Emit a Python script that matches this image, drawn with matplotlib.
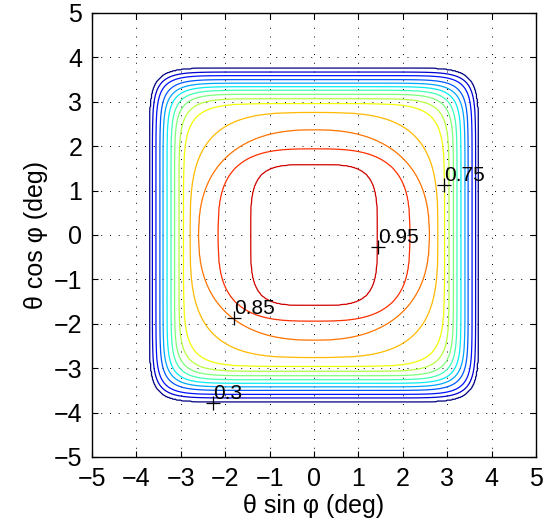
import numpy as np
import matplotlib
matplotlib.use("Agg")
import matplotlib.pyplot as plt

# contour levels
levels = [0.30, 0.35, 0.40, 0.45, 0.50, 0.55, 0.60, 0.65, 0.70, 0.75, 0.80, 0.85, 0.90, 0.95]
# half-width (x) and half-height (y) of each contour, in deg
half_w = [3.70, 3.64, 3.56, 3.47, 3.40, 3.31, 3.22, 3.14, 3.04, 2.94, 2.79, 2.60, 2.16, 1.43]
half_h = [3.755, 3.67, 3.59, 3.50, 3.42, 3.34, 3.26, 3.17, 3.07, 2.96, 2.76, 2.37, 1.94, 1.59]
# squareness exponent of each contour (superellipse)
squareness = [11, 11, 11, 10.5, 10, 10, 9.5, 9, 8, 6.5, 3.3, 2.4, 3.1, 4.0]

# labelled contours
label_vals = ["0.3", "0.75", "0.85", "0.95"]
label_x = [-2.28, 2.93, -1.80, 1.45]
label_y = [-3.78, 1.13, -1.86, -0.26]

ticks = [-5, -4, -3, -2, -1, 0, 1, 2, 3, 4, 5]

# build a field whose iso-lines are the read contours
xs = np.linspace(-5, 5, 501)
ys = np.linspace(-5, 5, 501)
X, Y = np.meshgrid(xs, ys)
L = np.array(levels)
G = np.array([(np.abs(X / a) ** p + np.abs(Y / b) ** p) ** (1.0 / p) - 1.0
              for a, b, p in zip(half_w, half_h, squareness)])
K = len(levels)
inside = (G <= 0).sum(axis=0)
Z = np.empty_like(X)
out = inside == 0
Z[out] = L[0] - 0.1 * G[0][out]
core = inside == K
Z[core] = L[-1] + 0.04 * (-G[-1][core])
mid = ~out & ~core
k = inside[mid] - 1
ii, jj = np.nonzero(mid)
gk = G[k, ii, jj]
gk1 = G[k + 1, ii, jj]
Z[mid] = L[k] + (L[k + 1] - L[k]) * (-gk) / (gk1 - gk)

plt.rcParams['font.family'] = ['Liberation Sans', 'DejaVu Sans']
fig = plt.figure(figsize=(5.44, 5.25), dpi=100)
ax = fig.add_axes([92 / 544, 68 / 525, 444 / 544, 444 / 525])

ax.contour(X, Y, Z, levels=levels, cmap='jet', vmin=0.3, vmax=1.0,
           linewidths=0.9)

for t, lx, ly in zip(label_vals, label_x, label_y):
    ax.plot(lx, ly, marker='+', color='k', markersize=10, mew=0.9, zorder=5)
    ax.text(lx, ly, t, ha='left', va='bottom', fontsize=15, color='k', zorder=6)

ax.set_xlim(-5, 5)
ax.set_ylim(-5, 5)
ax.set_xticks(ticks)
ax.set_yticks(ticks)
ax.set_xticklabels([str(t).replace('-', '\u2212') for t in ticks])
ax.set_yticklabels([str(t).replace('-', '\u2212') for t in ticks])
ax.tick_params(direction='in', top=True, right=True, length=4, width=0.8,
               labelsize=18, colors='k')
ax.tick_params(axis='x', pad=7)
ax.tick_params(axis='y', pad=7)
ax.grid(True, color='k', linestyle=(0, (1, 8)), linewidth=0.7)
for s in ax.spines.values():
    s.set_linewidth(1.0)
ax.set_xlabel('\u03b8 sin \u03c6 (deg)', fontsize=18, labelpad=2)
ax.set_ylabel('\u03b8 cos \u03c6 (deg)', fontsize=18, labelpad=4)

fig.savefig('out.png', dpi=100)
